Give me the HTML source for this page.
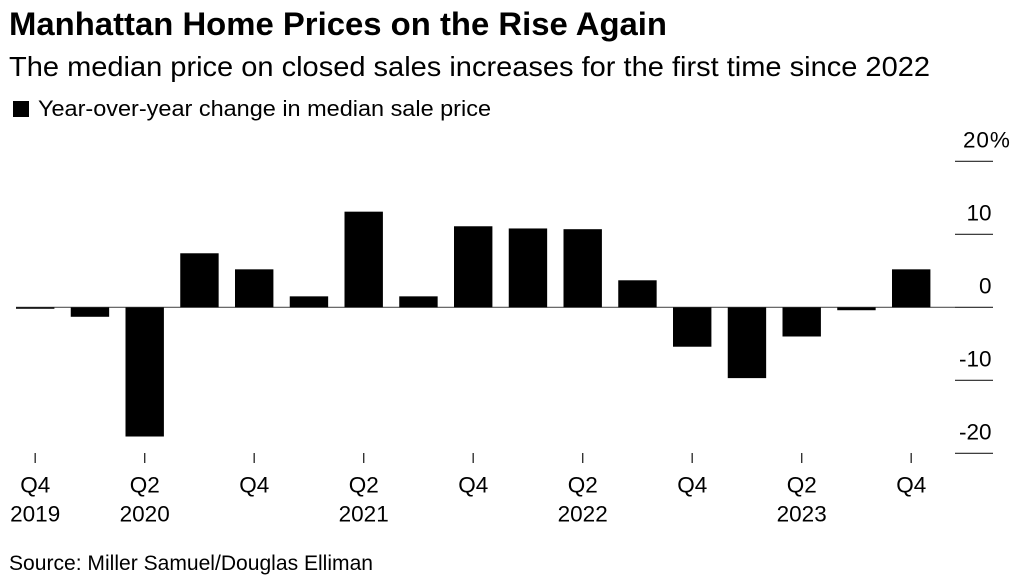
<!DOCTYPE html>
<html>
<head>
<meta charset="utf-8">
<style>
html,body{margin:0;padding:0;background:#fff;}
body{width:1024px;height:586px;overflow:hidden;}
svg{display:block;font-family:"Liberation Sans",Arial,sans-serif;fill:#000;}
</style>
</head>
<body>
<svg id="chart" width="1024" height="586" viewBox="0 0 1024 586" xmlns="http://www.w3.org/2000/svg">
<rect x="0" y="0" width="1024" height="586" fill="#fff"/>
<text x="9" y="35" font-size="32" font-weight="700" textLength="658" lengthAdjust="spacingAndGlyphs">Manhattan Home Prices on the Rise Again</text>
<text x="9" y="76" font-size="27.5" textLength="921" lengthAdjust="spacingAndGlyphs">The median price on closed sales increases for the first time since 2022</text>
<rect x="13" y="101" width="16" height="16" fill="#000"/>
<text x="38" y="116" font-size="22.5" textLength="453" lengthAdjust="spacingAndGlyphs">Year-over-year change in median sale price</text>
<g id="y-axis"></g>
<g id="bars"></g>
<g id="x-axis"></g>
<text x="9" y="570" font-size="21" textLength="364" lengthAdjust="spacingAndGlyphs">Source: Miller Samuel/Douglas Elliman</text>
</svg>
<script>
const quarters = ["Q4 2019","Q1 2020","Q2 2020","Q3 2020","Q4 2020","Q1 2021","Q2 2021","Q3 2021","Q4 2021","Q1 2022","Q2 2022","Q3 2022","Q4 2022","Q1 2023","Q2 2023","Q3 2023","Q4 2023"];
const priceChange = [-0.2,-1.3,-17.7,7.4,5.2,1.5,13.1,1.5,11.1,10.8,10.7,3.7,-5.4,-9.7,-4.0,-0.4,5.2];
const yTicks = [20,10,0,-10,-20];
const yTickLabels = ["20%","10","0","-10","-20"];
const xTickQuarters = ["Q4 2019","Q2 2020","Q4 2020","Q2 2021","Q4 2021","Q2 2022","Q4 2022","Q2 2023","Q4 2023"];
const xTickLine1 = ["Q4","Q2","Q4","Q2","Q4","Q2","Q4","Q2","Q4"];
const xTickLine2 = ["2019","2020","","2021","","2022","","2023",""];

const SVGNS = "http://www.w3.org/2000/svg";
function xScale(i){ return 35.2 + i * 54.75; }
function yScale(v){ return 307.3 - v * 7.3; }
const barWidth = 38.4;

function make(tag, attrs, parent, text){
  const el = document.createElementNS(SVGNS, tag);
  for (const k in attrs) el.setAttribute(k, attrs[k]);
  if (text !== undefined) el.textContent = text;
  parent.appendChild(el);
  return el;
}

const yAxis = document.getElementById("y-axis");
const barsG = document.getElementById("bars");
const xAxis = document.getElementById("x-axis");

const zero = make("line", {x1: 16, x2: 955, y1: yScale(0), y2: yScale(0), stroke: "#555", "stroke-width": 1.2}, yAxis);



yTicks.forEach(function(t, i){
  const y = yScale(t);
  const line = make("line", {x1: 955, x2: 993, y1: y, y2: y, stroke: "#222", "stroke-width": 1.2}, yAxis);
  
  
  const lab = make("text", {x: t === 20 ? 963 : 991.5, y: y - 14, "font-size": 22.5, "text-anchor": t === 20 ? "start" : "end", "letter-spacing": t === 20 ? 0.9 : 0}, yAxis, yTickLabels[i]);
  
  
});

priceChange.forEach(function(v, i){
  const y0 = yScale(0), y1 = yScale(v);
  const bar = make("rect", {
    x: xScale(i) - barWidth / 2,
    y: Math.min(y0, y1),
    width: barWidth,
    height: Math.abs(y1 - y0),
    fill: "#000"
  }, barsG);
  
  
});

xTickQuarters.forEach(function(q, i){
  const x = xScale(quarters.indexOf(q));
  const tick = make("line", {x1: x, x2: x, y1: 453, y2: 463, stroke: "#333", "stroke-width": 1.4}, xAxis);
  
  
  const l1 = make("text", {x: x, y: 492.5, "font-size": 22.5, "text-anchor": "middle"}, xAxis, xTickLine1[i]);
  
  
  if (xTickLine2[i]) {
    const l2 = make("text", {x: x, y: 521.5, "font-size": 22.5, "text-anchor": "middle"}, xAxis, xTickLine2[i]);
    
    
  }
});
</script>
</body>
</html>
